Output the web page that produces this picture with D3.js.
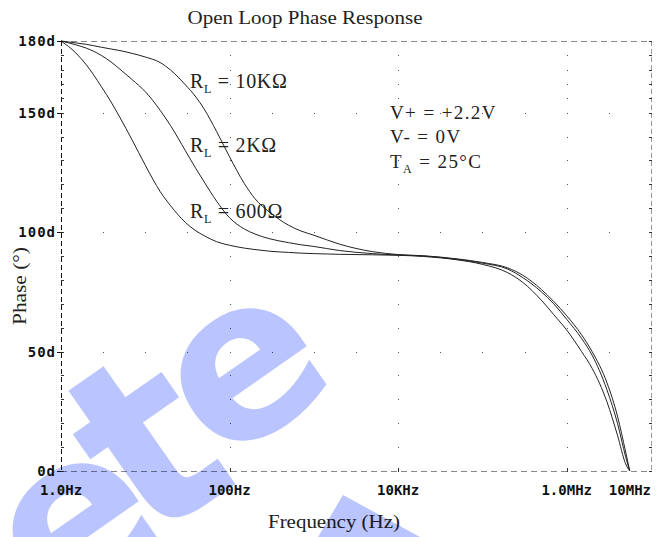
<!DOCTYPE html>
<html><head><meta charset="utf-8">
<script src="https://cdn.jsdelivr.net/npm/d3@7"></script>
<style>body{margin:0;background:#fff}svg{display:block}</style>
</head><body>
<script>
// Frequency sweep points (Hz) shared by all three load curves
const freqs = [1, 1.5, 2, 3, 4, 5, 7, 10, 15, 20, 30, 40, 50, 70, 100, 150, 200, 300, 500, 700,
  1e3, 2e3, 5e3, 1e4, 2e4, 5e4, 1e5, 2e5, 3e5, 5e5, 7e5, 1e6, 1.5e6, 2e6, 3e6, 4e6, 5e6, 5.6e6];
// Open loop phase (degrees) for each load resistance
const phase600 = [180, 175, 170, 161, 154, 148, 138.5, 128, 117, 111, 104, 100.5, 98.5, 96, 94.5, 93.3, 92.7, 92, 91.5, 91.2,
  91, 90.7, 90.5, 90.3, 89.8, 88.4, 86.5, 83, 79, 71.5, 65.5, 59, 50, 43, 29, 15, 3, 0];
const phase2k = [180, 178.4, 177, 174, 171, 168.2, 163.8, 158.8, 151, 144.5, 134, 126.5, 121, 113, 106, 101.3, 99.2, 97.2, 95.6, 94.7,
  94, 92.3, 91, 90.4, 90, 88.6, 87, 84.5, 81, 75, 70, 63.5, 55.5, 48.5, 34, 20, 6, 0];
const phase10k = [180, 179.2, 178.6, 177.4, 176.6, 176, 174.8, 173.3, 171, 167.8, 161.6, 156.5, 151.5, 142.2, 131.5, 120.3, 114, 108.3, 102.9, 100.5,
  98.7, 95, 91.8, 90.6, 90.1, 88.8, 87.3, 85, 82, 76, 71, 65, 57, 50, 37, 23, 8, 0];

const xTickValues = [1, 100, 1e4, 1e6, 1e7];
const xTickLabels = ["1.0Hz", "100Hz", "10KHz", "1.0MHz", "10MHz"];
const yTickValues = [0, 50, 100, 150, 180];
const yTickLabels = ["0d", "50d", "100d", "150d", "180d"];
const yMinorValues = [0,10,20,30,40,50,60,70,80,90,100,110,120,130,140,150,156,162,168,174,180];
const loadNames = ["10K\u03A9", "2K\u03A9", "600\u03A9"];
const conditions = ["V+ = +2.2V", "V- = 0V", "= 25\u00B0C"];

const W = 665, H = 537;
const svg = d3.select("body").append("svg").attr("width", W).attr("height", H);

const x = d3.scaleLog().domain([1, 1e7]).range([61, 651]);
const y = d3.scaleLinear().domain([0, 180]).range([471, 41]);
const xMinorValues = d3.range(0, 15).map(k => Math.pow(10, k / 2));

const mono = "'DejaVu Sans Mono', monospace";
const serif = "'Liberation Serif', 'Times New Roman', serif";

// dotted grid: along labelled frequency columns and labelled phase rows
const grid = svg.append("g").attr("fill", "#555");
[100, 1e4, 1e6].forEach(fv => {
  yMinorValues.filter(v => v > 0 && v < 180).forEach(pv => {
    grid.append("rect").attr("x", Math.round(x(fv))).attr("y", Math.round(y(pv))).attr("width", 1).attr("height", 1);
  });
});
[50, 100, 150].forEach(pv => {
  xMinorValues.filter(v => v > 1 && v < 1e7).forEach(fv => {
    grid.append("rect").attr("x", Math.round(x(fv))).attr("y", Math.round(y(pv))).attr("width", 1).attr("height", 1);
  });
});

// frame
const frame = svg.append("g").attr("fill", "none");
frame.append("line").attr("x1", x(1)).attr("x2", x(1e7)).attr("y1", y(180) + .5).attr("y2", y(180) + .5)
  .attr("stroke", "#888").attr("stroke-dasharray", "6,4");
frame.append("line").attr("x1", x(1)).attr("x2", x(1e7)).attr("y1", y(0) + .5).attr("y2", y(0) + .5)
  .attr("stroke", "#888").attr("stroke-dasharray", "6,4");
frame.append("line").attr("x1", x(1e7) + .5).attr("x2", x(1e7) + .5).attr("y1", y(180)).attr("y2", y(0))
  .attr("stroke", "#999").attr("stroke-dasharray", "5,3");
frame.append("line").attr("x1", x(1) + .5).attr("x2", x(1) + .5).attr("y1", y(180)).attr("y2", y(0))
  .attr("stroke", "#111").attr("stroke-dasharray", "5,3");

// minor ticks on left and right edges
yMinorValues.forEach(v => {
  frame.append("line").attr("x1", x(1)).attr("x2", x(1) + 3).attr("y1", Math.round(y(v)) + .5).attr("y2", Math.round(y(v)) + .5).attr("stroke", "#333");
  frame.append("line").attr("x1", x(1e7) - 2).attr("x2", x(1e7) + 1).attr("y1", Math.round(y(v)) + .5).attr("y2", Math.round(y(v)) + .5).attr("stroke", "#333");
});
// major ticks on the left
yTickValues.forEach(v => {
  frame.append("line").attr("x1", x(1) - 4).attr("x2", x(1)).attr("y1", Math.round(y(v)) + .5).attr("y2", Math.round(y(v)) + .5).attr("stroke", "#111");
});
// frequency ticks on the bottom edge
[100, 1e4, 1e6].forEach(v => {
  frame.append("line").attr("x1", Math.round(x(v)) + .5).attr("x2", Math.round(x(v)) + .5).attr("y1", y(0) - 3).attr("y2", y(0) + 1).attr("stroke", "#333");
});

// curves
const line = d3.line().x((d, i) => x(freqs[i])).y(d => y(d)).curve(d3.curveMonotoneX);
const curves = svg.append("g").attr("fill", "none").attr("stroke", "#222").attr("stroke-width", 1);
[phase10k, phase2k, phase600].forEach(s => curves.append("path").attr("d", line(s)));

// tick labels
svg.append("g").selectAll("text").data(yTickValues).join("text")
  .attr("x", 56).attr("y", d => y(d) + 5)
  .attr("text-anchor", "end").attr("font-family", mono).attr("font-weight", "bold").attr("font-size", 14)
  .attr("letter-spacing", 1).attr("fill", "#111").text((d, i) => yTickLabels[i]);
svg.append("g").selectAll("text").data(xTickValues).join("text")
  .attr("x", d => x(d))
  .attr("y", 495)
  .attr("text-anchor", (d, i) => i === xTickValues.length - 1 ? "end" : "middle")
  .attr("font-family", mono).attr("font-weight", "bold").attr("font-size", 14)
  .attr("fill", "#111").text((d, i) => xTickLabels[i]);

// titles
svg.append("text").attr("x", 305).attr("y", 24).attr("text-anchor", "middle")
  .attr("font-family", serif).attr("font-size", 19).attr("fill", "#222")
  .attr("textLength", 235).attr("lengthAdjust", "spacingAndGlyphs").text("Open Loop Phase Response");
svg.append("text").attr("x", 334).attr("y", 528).attr("text-anchor", "middle")
  .attr("font-family", serif).attr("font-size", 19).attr("fill", "#222")
  .attr("textLength", 132).attr("lengthAdjust", "spacingAndGlyphs").text("Frequency (Hz)");
svg.append("text").attr("transform", "translate(26,286) rotate(-90)").attr("text-anchor", "middle")
  .attr("font-family", serif).attr("font-size", 19).attr("fill", "#222")
  .attr("textLength", 78).attr("lengthAdjust", "spacingAndGlyphs").text("Phase (\u00B0)");

// load annotations
const ann = svg.append("g").attr("font-family", serif).attr("font-size", 20).attr("fill", "#222")
  .attr("letter-spacing", 0.7);
[88, 152, 218].forEach((by, i) => {
  const t = ann.append("text").attr("x", 190).attr("y", by);
  t.append("tspan").text("R");
  t.append("tspan").attr("font-size", 12).attr("dy", 5).text("L");
  t.append("tspan").attr("dy", -5).text(" = " + loadNames[i]);
});
// supply / temperature conditions
const cond = svg.append("g").attr("font-family", serif).attr("font-size", 19).attr("fill", "#222")
  .attr("letter-spacing", 1.4);
cond.append("text").attr("x", 390).attr("y", 119).text(conditions[0]);
cond.append("text").attr("x", 390).attr("y", 143).text(conditions[1]);
const tt = cond.append("text").attr("x", 390).attr("y", 168);
tt.append("tspan").text("T");
tt.append("tspan").attr("font-size", 12).attr("dy", 5).text("A");
tt.append("tspan").attr("dy", -5).text(" " + conditions[2]);

// diagonal stamp lettering across the lower plot
const stamp = svg.append("g").attr("fill", "#BAC4FF").style("mix-blend-mode", "multiply")
  .attr("font-family", "'DejaVu Sans', sans-serif").attr("font-weight", "bold");
[["e", 80, 530, 222], ["t", 157, 458, 245], ["e", 248, 375, 222]].forEach(([ch, cx, cy, fs]) => {
  stamp.append("text").attr("transform", `translate(${cx},${cy}) rotate(-35)`)
    .attr("font-size", fs).attr("text-anchor", "middle").attr("dy", "0.27em").text(ch);
});
// corner of the stamp's second line peeking in at the bottom edge
const corner = d3.path();
corner.moveTo(343, 495); corner.lineTo(420, 537); corner.lineTo(318, 537); corner.closePath();
stamp.append("path").attr("d", corner.toString());
</script>
</body></html>
